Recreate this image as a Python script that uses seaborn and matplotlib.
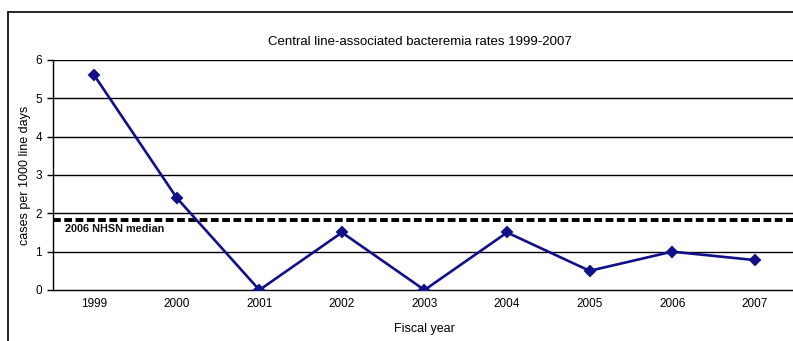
import numpy as np
import pandas as pd
import seaborn as sns
import matplotlib.pyplot as plt
from matplotlib.lines import Line2D

years = ["1999", "2000", "2001", "2002", "2003", "2004", "2005", "2006", "2007"]
rates = [5.6, 2.4, 0.0, 1.5, 0.0, 1.5, 0.5, 1.0, 0.78]
nhsn_median = 1.83

df = pd.DataFrame({"year": years, "rate": rates})

sns.set_style("white")
plt.rcParams["font.family"] = ["Liberation Sans", "DejaVu Sans"]
plt.rcParams["text.color"] = "black"
plt.rcParams["axes.labelcolor"] = "black"
plt.rcParams["xtick.color"] = "black"
plt.rcParams["ytick.color"] = "black"

fig = plt.figure(figsize=(7.93, 3.41), dpi=100)
ax = fig.add_axes([0.0668, 0.1496, 0.937, 0.6745])

# gridlines
for v in range(1, 7):
    ax.axhline(v, color="black", lw=1.0, zorder=1)

# median line
ax.axhline(nhsn_median, color="black", lw=2.8, linestyle=(0, (2.0, 0.9)), zorder=2)
ax.text(-0.35, nhsn_median - 0.1, "2006 NHSN median", fontsize=7.8,
        fontweight="bold", va="top", ha="left", color="#111111")

sns.pointplot(data=df, x="year", y="rate", color="#101088", markers="D",
              markersize=5.5, linewidth=1.9, ax=ax, zorder=3)

ax.set_xlim(-0.5, 8.5)
ax.set_ylim(0, 6)
ax.set_yticks(range(0, 7))
ax.set_xticks(range(len(years)))
ax.set_xticklabels(years)
ax.set_xticks(np.arange(-0.5, 8.6, 1.0), minor=True)
ax.tick_params(axis="x", which="major", length=0, pad=6, labelsize=8.5)
ax.tick_params(axis="x", which="minor", length=5, width=1, direction="out", color="black")
ax.tick_params(axis="y", length=4, width=1, direction="out", color="black", labelsize=8.5,
               left=True, pad=4)

for s in ["top", "right"]:
    ax.spines[s].set_visible(False)
for s in ["left", "bottom"]:
    ax.spines[s].set_color("black")
    ax.spines[s].set_linewidth(1)

ax.set_xlabel("Fiscal year", fontsize=9, labelpad=9)
ax.set_ylabel("cases per 1000 line days", fontsize=9, labelpad=3)
fig.text(0.53, 0.876, "Central line-associated bacteremia rates 1999-2007",
         ha="center", va="center", fontsize=9.5)

# outer chart border
fig.add_artist(Line2D([0.0101, 0.0101], [0.0, 0.965], color="black", lw=1.2, transform=fig.transFigure))
fig.add_artist(Line2D([0.0101, 1.0], [0.965, 0.965], color="black", lw=1.2, transform=fig.transFigure))

fig.savefig("out.png", dpi=100)
